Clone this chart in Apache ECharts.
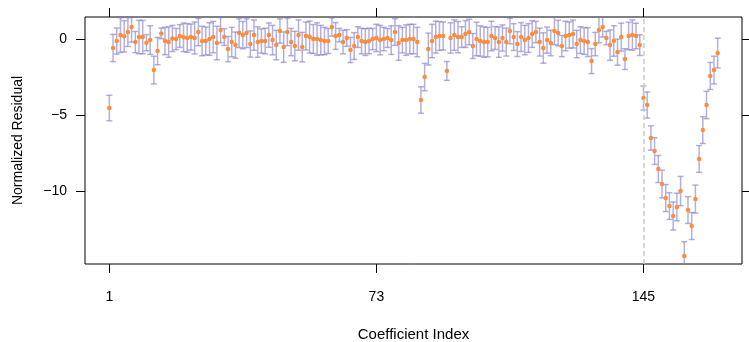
<!DOCTYPE html>
<html>
<head>
<meta charset="utf-8">
<script src="https://cdn.jsdelivr.net/npm/echarts@6/dist/echarts.min.js"></script>
<style>
html, body { margin: 0; padding: 0; background: #fff; }
#Chart { width: 749px; height: 342px; }
</style>
</head>
<body>
<div id="Chart"></div>
<script>
// normalized residual per coefficient (index = position + 1)
var residuals = [
    -4.54, -0.59, -0.13, 0.26, 0.18, 0.46, 0.79, -0.2, 0.13, 0.13,
    -0.24, -0.07, -2.04, -0.79, 0.37, -0.13, -0.2, 0.04, 0, 0.2,
    0.11, 0.07, 0.13, 0.07, 0.46, -0.13, -0.13, 0, 0.13, -0.26,
    0.59, 0.13, -0.66, -0.2, -0.4, 0.39, 0.26, 0.39, -0.33, 0.26,
    -0.2, -0.13, -0.13, 0.26, -0.07, -0.4, 0.53, -0.53, 0.46, -0.2,
    -0.46, 0.26, -0.53, 0.2, 0.13, 0, 0, -0.07, -0.13, -0.13,
    0.79, 0.2, 0.26, -0.2, 0.07, -0.72, -0.46, 0.13, -0.13, -0.2,
    -0.13, 0, 0.07, -0.07, 0, 0.07, -0.07, 0.46, -0.26, -0.07,
    -0.07, 0, 0, -0.2, -4.01, -2.5, -0.66, -0.13, 0.13, 0.2,
    0.2, -2.1, 0.07, 0.26, 0.13, 0.13, 0.33, 0.46, -0.46, 0,
    -0.13, -0.2, -0.2, 0.2, 0.07, -0.2, 0.07, -0.2, 0.53, 0.13,
    -0.33, 0.13, -0.07, 0.07, 0.33, 0.46, -0.2, -0.59, -0.07, -0.26,
    0.53, 0.39, -0.46, 0.2, 0.26, 0.33, -0.33, -0.07, -0.13, -0.2,
    -1.45, -0.33, 0.59, 0.79, 0.07, -0.4, -0.13, -0.86, 0.13, -1.32,
    0.2, 0.26, 0.2, -0.4, -3.88, -4.34, -6.51, -7.37, -8.55, -9.54,
    -10.46, -10.99, -11.64, -11.05, -10.0, -14.28, -11.25, -12.3, -10.53, -7.89,
    -5.99, -4.34, -2.43, -2.04, -0.92
];
// half length of the error bars
var errors = [
    0.84, 0.9, 0.86, 1.14, 1.03, 0.95, 0.99, 0.7, 1.1, 1.1,
    0.53, 0.94, 0.91, 0.9, 0.35, 0.9, 1.0, 0.86, 0.7, 0.75,
    0.94, 0.94, 0.86, 1.05, 0.9, 0.97, 0.92, 1.07, 1.03, 1.1,
    0.83, 0.55, 0.83, 0.97, 0.86, 0.95, 0.9, 0.95, 0.86, 1.0,
    1.0, 0.8, 0.84, 0.8, 0.97, 0.97, 0.8, 1.0, 0.9, 0.9,
    0.97, 1.0, 0.97, 0.92, 1.05, 0.95, 1.07, 0.97, 0.9, 0.82,
    0.6, 0.88, 0.44, 0.77, 0.55, 0.83, 0.88, 0.68, 0.84, 0.88,
    0.84, 0.7, 0.9, 0.97, 0.77, 0.62, 0.94, 0.88, 1.14, 0.84,
    1.0, 0.97, 0.97, 0.97, 0.87, 0.9, 1.05, 1.1, 1.05, 0.95,
    0.92, 0.62, 1.0, 1.0, 1.03, 0.68, 0.88, 0.84, 0.82, 1.1,
    1.0, 1.0, 0.97, 0.97, 0.75, 1.0, 0.86, 0.92, 0.84, 0.88,
    0.82, 0.95, 0.97, 0.95, 0.88, 0.7, 0.92, 1.0, 0.86, 0.84,
    0.9, 0.84, 0.7, 0.97, 0.86, 0.92, 0.9, 0.88, 0.88, 0.95,
    0.82, 0.77, 0.84, 0.66, 0.44, 1.0, 1.0, 0.86, 0.92, 0.68,
    0.9, 1.0, 0.84, 0.68, 0.79, 0.86, 0.8, 0.88, 0.89, 0.91,
    0.89, 0.88, 0.92, 0.91, 0.96, 0.95, 0.88, 0.89, 0.92, 0.88,
    0.88, 0.9, 0.89, 0.91, 0.98
];
var xTicks = [1, 73, 145];
var yTicks = [-10, -5, 0];
var splitIndex = 145;

var pointColor = "#ff8c3a";
var barColor = "rgba(130,124,200,0.6)";
var fontName = "Liberation Sans";

var points = [];
var bars = [];
for (var i = 0; i < residuals.length; i++) {
    points.push([i + 1, residuals[i]]);
    bars.push([i + 1, residuals[i] - errors[i], residuals[i] + errors[i]]);
}

var myChart = echarts.init(document.getElementById("Chart"));

function renderBar(params, api) {
    var x = api.value(0);
    var lo = api.coord([x, api.value(1)]);
    var hi = api.coord([x, api.value(2)]);
    var w = 3;
    var style = { stroke: barColor, lineWidth: 1.5 };
    return {
        type: 'group',
        children: [
            { type: 'line', shape: { x1: lo[0], y1: lo[1], x2: hi[0], y2: hi[1] }, style: style },
            { type: 'line', shape: { x1: lo[0] - w, y1: lo[1], x2: lo[0] + w, y2: lo[1] }, style: style },
            { type: 'line', shape: { x1: hi[0] - w, y1: hi[1], x2: hi[0] + w, y2: hi[1] }, style: style }
        ]
    };
}

var noLine = { show: false, onZero: false };
var tickStyle = { show: true, length: 9, lineStyle: { color: '#000', width: 1 } };
var labelStyle = { color: '#000', fontSize: 14, fontFamily: fontName };

var option = {
    animation: false,
    textStyle: { fontFamily: fontName },
    grid: {
        left: 85,
        right: 7,
        top: 17,
        bottom: 78,
        outerBoundsMode: 'none',
        containLabel: false,
        show: true,
        borderColor: '#000',
        borderWidth: 1,
        backgroundColor: '#fff'
    },
    xAxis: [
        {
            type: 'value',
            position: 'bottom',
            min: -5.56,
            max: 171.56,
            name: 'Coefficient Index',
            nameLocation: 'middle',
            nameGap: 63,
            nameTextStyle: { color: '#000', fontSize: 15, fontFamily: fontName },
            axisLine: noLine,
            splitLine: { show: false },
            axisTick: Object.assign({ customValues: xTicks }, tickStyle),
            axisLabel: Object.assign({ customValues: xTicks, margin: 26 }, labelStyle)
        },
        {
            type: 'value',
            position: 'top',
            min: -5.56,
            max: 171.56,
            axisLine: noLine,
            splitLine: { show: false },
            axisTick: Object.assign({ customValues: xTicks }, tickStyle),
            axisLabel: { show: false }
        }
    ],
    yAxis: [
        {
            type: 'value',
            position: 'left',
            min: -14.8,
            max: 1.45,
            name: 'Normalized Residual',
            nameLocation: 'middle',
            nameGap: 60,
            nameTextStyle: labelStyle,
            axisLine: noLine,
            splitLine: { show: false },
            axisTick: Object.assign({ customValues: yTicks }, tickStyle),
            axisLabel: Object.assign({
                customValues: yTicks,
                margin: 18,
                formatter: function (v) { return String(v).replace('-', '\u2212'); }
            }, labelStyle)
        },
        {
            type: 'value',
            position: 'right',
            min: -14.8,
            max: 1.45,
            axisLine: noLine,
            splitLine: { show: false },
            axisTick: Object.assign({ customValues: yTicks }, tickStyle),
            axisLabel: { show: false }
        }
    ],
    series: [
        {
            type: 'custom',
            name: 'error',
            data: bars,
            renderItem: renderBar,
            clip: true,
            encode: { x: 0, y: [1, 2] },
            z: 2
        },
        {
            type: 'scatter',
            name: 'residual',
            data: points,
            symbol: 'circle',
            symbolSize: 4.5,
            itemStyle: { color: pointColor, opacity: 1 },
            z: 3,
            markLine: {
                silent: true,
                symbol: 'none',
                label: { show: false },
                lineStyle: { color: '#cccccc', type: [5, 3], width: 1.5 },
                data: [{ xAxis: splitIndex }]
            }
        }
    ]
};
myChart.setOption(option);
window.addEventListener("resize", function () {
    myChart.resize();
});
</script>
</body>
</html>
